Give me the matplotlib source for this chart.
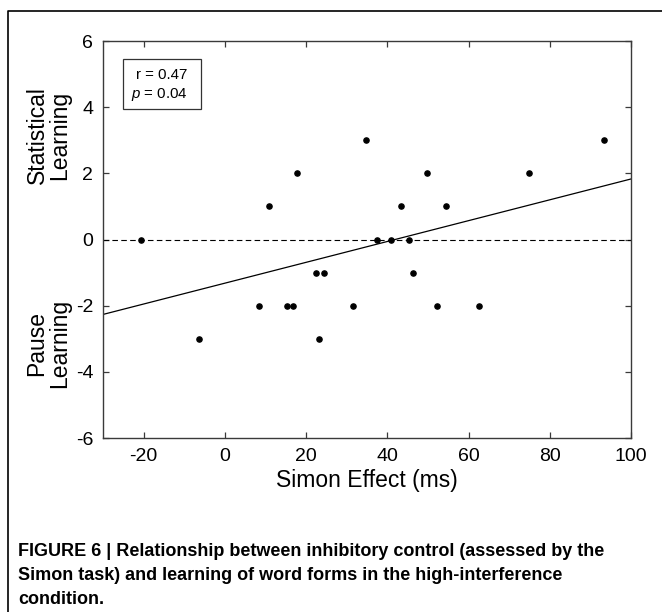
import matplotlib
matplotlib.use("Agg")
import matplotlib.pyplot as plt
from matplotlib.lines import Line2D
from matplotlib.patches import Rectangle

# Data
simon_effect = [-20.7, -6.3, 8.5, 10.8, 15.4, 16.9, 17.8, 22.4, 23.1, 24.5, 31.5, 34.8,
                37.4, 40.9, 43.3, 45.3, 46.4, 49.7, 52.3, 54.4, 62.6, 75.0, 93.3]
learning = [0, -3, -2, 1, -2, -2, 2, -1, -3, -1, -2, 3,
            0, 0, 1, 0, -1, 2, -2, 1, -2, 2, 3]
fit_slope = 0.0315
fit_intercept = -1.32
x_ticks = [-20, 0, 20, 40, 60, 80, 100]
y_ticks = [-6, -4, -2, 0, 2, 4, 6]
caption_lines = [
    "FIGURE 6 | Relationship between inhibitory control (assessed by the",
    "Simon task) and learning of word forms in the high-interference",
    "condition.",
]

plt.rcParams['font.family'] = ['Liberation Sans', 'DejaVu Sans']
plt.rcParams['axes.unicode_minus'] = False
plt.rcParams['mathtext.fontset'] = 'custom'
plt.rcParams['mathtext.it'] = 'Liberation Sans:italic'
plt.rcParams['mathtext.rm'] = 'Liberation Sans'

fig = plt.figure(figsize=(6.62, 6.12), dpi=100)
ax = fig.add_axes([0.1556, 0.2843, 0.7976, 0.6487])

axis_color = '#3a3a3a'
for s in ax.spines.values():
    s.set_color(axis_color)
    s.set_linewidth(1.0)

# reference line and regression line
ax.axhline(0, color='black', lw=0.8, dashes=(5, 3))
fit_x = [-30, 100]
fit_y = [fit_intercept + fit_slope * v for v in fit_x]
ax.plot(fit_x, fit_y, color='black', lw=0.9)

ax.scatter(simon_effect, learning, s=14, color='black', zorder=3)

ax.set_xlim(-30, 100)
ax.set_ylim(-6, 6)
ax.set_xticks(x_ticks)
ax.set_yticks(y_ticks)
ax.tick_params(direction='in', length=4, width=0.9, color=axis_color,
               top=True, right=True, labelsize=14, pad=7)
ax.set_xlabel('Simon Effect (ms)', fontsize=16.5, labelpad=3)

# y-axis side labels
ax.text(-0.104, 0.763, 'Statistical\nLearning', transform=ax.transAxes, rotation=90,
        ha='center', va='center', fontsize=16.5, linespacing=0.95)
ax.text(-0.104, 0.237, 'Pause\nLearning', transform=ax.transAxes, rotation=90,
        ha='center', va='center', fontsize=16.5, linespacing=0.95)

# stats box
ax.add_patch(Rectangle((0.038, 0.828), 0.147, 0.127, transform=ax.transAxes,
                       fill=False, edgecolor='#333333', lw=0.9))
ax.text(0.160, 0.904, 'r = 0.47', transform=ax.transAxes, ha='right',
        va='baseline', fontsize=10.8)
ax.text(0.160, 0.857, '$p$ = 0.04', transform=ax.transAxes, ha='right',
        va='baseline', fontsize=10.8)

# outer frame (left and top edges)
x0 = 7.5 / 662
y0 = 1 - 11 / 612
fig.add_artist(Line2D([x0, x0, 1.0], [0.0, y0, y0], transform=fig.transFigure,
                      color='black', lw=1.2))

# caption
cap_y = [1 - 551 / 612, 1 - 576 / 612, 1 - 600 / 612]
for line, yy in zip(caption_lines, cap_y):
    fig.text(18 / 662, yy, line, ha='left', va='center', fontsize=13,
             fontweight='bold')

fig.savefig('out.png', dpi=100)
